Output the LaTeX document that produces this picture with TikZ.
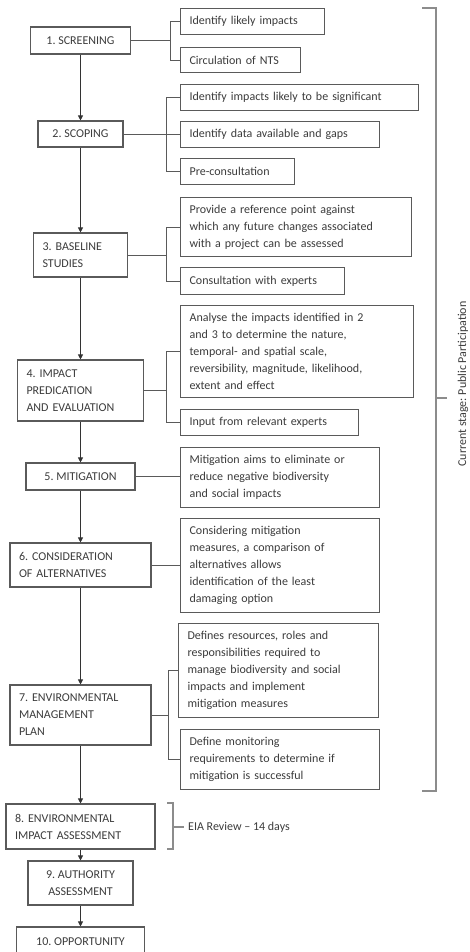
\documentclass[tikz,border=0pt]{standalone}
\usepackage{fontspec}
\setmainfont{Carlito}
\usetikzlibrary{arrows.meta}
\definecolor{boxline}{HTML}{5A5A5A}
\definecolor{txt}{HTML}{3C3C3C}
\definecolor{brk}{HTML}{8C8C8C}
\frenchspacing
\begin{document}
\begin{tikzpicture}[x=1pt,y=-1pt,
  lbox/.style={draw=boxline, line width=1.1pt, text=txt, font=\fontsize{12}{17}\selectfont, inner xsep=9pt, inner ysep=0pt},
  rbox/.style={draw=boxline, line width=1.1pt, text=txt, font=\fontsize{12}{17}\selectfont, inner xsep=9pt, inner ysep=0pt, anchor=north west, align=left},
  conn/.style={draw=boxline, line width=0.8pt},
  arr/.style={draw=black!80, line width=0.9pt, -{Triangle[length=5pt,width=5pt]}},
  brkline/.style={draw=brk, line width=1.4pt}]
\useasboundingbox (0,0) rectangle (470,952);
\fill[white] (0,0) rectangle (470,952);

% left column
\node[lbox, minimum width=100pt, minimum height=27pt] (s1) at (80.5,40.5) {1. SCREENING};
\node[lbox, minimum width=85pt, minimum height=26pt] (s2) at (80.5,134) {2. SCOPING};
\node[lbox, text width=76pt, minimum height=44pt, align=left] (s3) at (80.5,255) {3. BASELINE\\STUDIES};
\node[lbox, text width=108pt, minimum height=61pt, align=left] (s4) at (80.5,390.5) {4. IMPACT\\PREDICATION\\AND EVALUATION};
\node[lbox, minimum width=109pt, minimum height=27pt] (s5) at (80.5,476.5) {5. MITIGATION};
\node[lbox, text width=123pt, minimum height=44pt, align=left] (s6) at (80.5,565) {6. CONSIDERATION\\OF ALTERNATIVES};
\node[lbox, text width=123pt, minimum height=60pt, align=left] (s7) at (80.5,715) {7. ENVIRONMENTAL\\MANAGEMENT\\PLAN};
\node[lbox, text width=131pt, minimum height=45pt, align=left] (s8) at (80.5,826.5) {8. ENVIRONMENTAL\\IMPACT ASSESSMENT};
\node[lbox, minimum width=105pt, minimum height=44pt, align=center] (s9) at (80.5,883) {9. AUTHORITY\\ASSESSMENT};
\node[lbox, minimum width=128pt, minimum height=30pt] (s10) at (80.5,942) {10. OPPORTUNITY};

\draw[arr] (s1) -- (s2);
\draw[arr] (s2) -- (s3);
\draw[arr] (s3) -- (s4);
\draw[arr] (s4) -- (s5);
\draw[arr] (s5) -- (s6);
\draw[arr] (s6) -- (s7);
\draw[arr] (s7) -- (s8);
\draw[arr] (s8) -- (s9);
\draw[arr] (s9) -- (s10);

% right column
\node[rbox, text width=126pt, minimum height=26pt] (a1) at (180,8) {Identify likely impacts};
\node[rbox, text width=102pt, minimum height=25pt] (a2) at (180,47) {Circulation of NTS};
\node[rbox, text width=220pt, minimum height=26pt] (b1) at (180,84) {Identify impacts likely to be significant};
\node[rbox, text width=181pt, minimum height=26pt] (b2) at (180,121) {Identify data available and gaps};
\node[rbox, text width=96pt, minimum height=26pt] (b3) at (180,158) {Pre-consultation};
\node[rbox, text width=213pt, minimum height=59pt] (c1) at (180,197) {Provide a reference point against\\which any future changes associated\\with a project can be assessed};
\node[rbox, text width=146pt, minimum height=27pt] (c2) at (180,267) {Consultation with experts};
\node[rbox, text width=215pt, minimum height=92pt] (d1) at (180,305) {Analyse the impacts identified in 2\\and 3 to determine the nature,\\temporal- and spatial scale,\\reversibility, magnitude, likelihood,\\extent and effect};
\node[rbox, text width=160pt, minimum height=26pt] (d2) at (180,409) {Input from relevant experts};
\node[rbox, text width=181pt, minimum height=60pt] (e1) at (180,447) {Mitigation aims to eliminate or\\reduce negative biodiversity\\and social impacts};
\node[rbox, text width=181pt, minimum height=94pt] (f1) at (180,518) {Considering mitigation\\measures, a comparison of\\alternatives allows\\identification of the least\\damaging option};
\node[rbox, text width=182pt, minimum height=94pt] (g1) at (178,623) {Defines resources, roles and\\responsibilities required to\\manage biodiversity and social\\impacts and implement\\mitigation measures};
\node[rbox, text width=181pt, minimum height=60pt] (g2) at (180,729) {Define monitoring\\requirements to determine if\\mitigation is successful};

% connectors / brackets
\coordinate (k1) at (170,0);
\coordinate (k2) at (166,0);
\coordinate (k3) at (166,0);
\coordinate (k4) at (166,0);
\coordinate (k7) at (168,0);
\draw[conn] (s1.east) -- (s1.east -| k1);
\draw[conn] (a1.west) -- (a1.west -| k1) -- (a2.west -| k1) -- (a2.west);
\draw[conn] (s2.east) -- (s2.east -| b2.west);
\draw[conn] (b1.west) -- (b1.west -| k2) -- (b3.west -| k2) -- (b3.west);
\draw[conn] (s3.east) -- (s3.east -| k3);
\draw[conn] (c1.west) -- (c1.west -| k3) -- (c2.west -| k3) -- (c2.west);
\draw[conn] (s4.east) -- (s4.east -| k4);
\draw[conn] (d1.west) -- (d1.west -| k4) -- (d2.west -| k4) -- (d2.west);
\draw[conn] (s5.east) -- (s5.east -| e1.west);
\draw[conn] (s6.east) -- (s6.east -| f1.west);
\draw[conn] (s7.east) -- (s7.east -| k7);
\draw[conn] (g1.west) -- (g1.west -| k7) -- (g2.west -| k7) -- (g2.west);

% EIA review bracket
\node[anchor=west, text=txt, font=\fontsize{12}{17}\selectfont, inner sep=0pt] (eia) at (188,827) {EIA Review -- 14 days};
\coordinate (et) at (173,803);
\coordinate (eb) at (173,849);
\draw[brkline, line width=1.1pt] ([xshift=-6pt]et) -- (et) -- (eb) -- ([xshift=-6pt]eb);
\draw[brkline, line width=1.1pt] (et |- eia.west) -- ([xshift=-4pt]eia.west);

% public participation bracket
\coordinate (pt) at (436,8);
\coordinate (pb) at (436,791);
\coordinate (pm) at (436,398);
\draw[brkline] ([xshift=-14pt]pt) -- (pt) -- (pb) -- ([xshift=-14pt]pb);
\draw[brkline] (pm) -- ([xshift=11pt]pm);
\node[rotate=90, text=txt, font=\fontsize{12}{14}\selectfont, inner sep=0pt] (pp) at (463,384) {Current stage: Public Participation};
\end{tikzpicture}
\end{document}
